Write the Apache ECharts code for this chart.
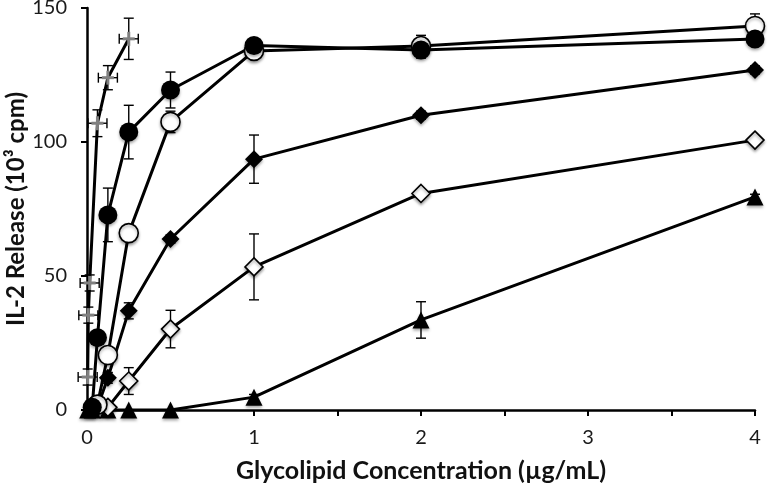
<!DOCTYPE html>
<html><head><meta charset="utf-8">
<script src="https://cdn.jsdelivr.net/npm/echarts@6/dist/echarts.min.js"></script>
<style>html,body{margin:0;padding:0;background:#fff}#c{width:770px;height:493px}</style>
</head><body><div id="c"></div>
<script>
// ---- data ----
const yTicks = [0, 50, 100, 150];
const xTickLabels = ['0', '1', '2', '3', '4'];

// filled circles
const xFC = [0.03125, 0.0625, 0.125, 0.25, 0.5, 1, 2, 4];
const yFC = [1, 27, 72.8, 103.7, 119.4, 136, 134.3, 138.4];
const eFC = [0, 2, 10, 10, 6.7, 1.5, 3, 1.5];
// open circles
const xOC = [0.0625, 0.125, 0.25, 0.5, 1, 2, 4];
const yOC = [2, 20.5, 66, 107.5, 134, 135.8, 143.3];
const eOC = [0, 2, 2, 4, 2, 4, 4.5];
// filled diamonds
const xFD = [0.0625, 0.125, 0.25, 0.5, 1, 2, 4];
const yFD = [1, 12, 37, 63.8, 93.6, 110, 126.9];
const eFD = [0, 2, 3, 1.5, 9, 1.5, 1.5];
// open diamonds
const xOD = [0.125, 0.25, 0.5, 1, 2, 4];
const yOD = [1, 10.8, 30.2, 53.4, 80.8, 100.7];
const eOD = [0, 5, 7, 12.3, 1, 1];
// filled triangles
const xTR = [0.004, 0.03125, 0.125, 0.25, 0.5, 1, 2, 4];
const yTR = [0, 0, 0, 0, 0, 4.8, 33.6, 79.5];
const eTR = [0, 0, 0, 0, 0, 1, 6.8, 1];
// cross (plus) markers with x and y error bars
const xCR = [0.004, 0.008, 0.016, 0.0625, 0.125, 0.25];
const yCR = [12.3, 35.4, 47.4, 107, 124, 138.5];
const eCR = [3, 3, 3, 5, 4.5, 7.7];
const xeCR = [0.057, 0.057, 0.057, 0.057, 0.057, 0.057];

const pairs = (xs, ys) => xs.map((x, i) => [x, ys[i]]);
const shadow = {shadowBlur: 3, shadowColor: 'rgba(0,0,0,0.35)', shadowOffsetY: 2};

function lineSeries(xs, ys, symbol, size, fill) {
  return {
    type: 'line', data: pairs(xs, ys), symbol: symbol, symbolSize: size,
    showAllSymbol: true, z: 3,
    lineStyle: {color: '#000', width: 3},
    itemStyle: Object.assign({color: fill, borderColor: '#000', borderWidth: fill === '#fff' ? 1.6 : 0}, shadow),
    emphasis: {disabled: true}, animation: false
  };
}

function errSeries(xs, ys, es, xes, plus) {
  return {
    type: 'custom', z: plus ? 4 : 2, animation: false,
    encode: {x: 0, y: 1},
    data: xs.map((x, i) => [x, ys[i], es[i], xes ? xes[i] : 0]),
    renderItem: function (params, api) {
      const x = api.value(0), y = api.value(1), e = api.value(2), xe = api.value(3);
      const c = api.coord([x, y]);
      const st = {stroke: '#000', lineWidth: 1.4};
      const ch = [];
      const cw = 5;
      if (e > 0) {
        const t = api.coord([x, y + e]), b = api.coord([x, y - e]);
        ch.push({type: 'line', shape: {x1: c[0], y1: t[1], x2: c[0], y2: b[1]}, style: st});
        ch.push({type: 'line', shape: {x1: c[0] - cw, y1: t[1], x2: c[0] + cw, y2: t[1]}, style: st});
        ch.push({type: 'line', shape: {x1: c[0] - cw, y1: b[1], x2: c[0] + cw, y2: b[1]}, style: st});
      }
      if (xe > 0) {
        const l = api.coord([x - xe, y]), r = api.coord([x + xe, y]);
        ch.push({type: 'line', shape: {x1: l[0], y1: c[1], x2: r[0], y2: c[1]}, style: st});
        ch.push({type: 'line', shape: {x1: l[0], y1: c[1] - cw, x2: l[0], y2: c[1] + cw}, style: st});
        ch.push({type: 'line', shape: {x1: r[0], y1: c[1] - cw, x2: r[0], y2: c[1] + cw}, style: st});
      }
      if (plus) {
        const ps = {stroke: '#808080', lineWidth: 3};
        ch.push({type: 'line', shape: {x1: c[0] - 6, y1: c[1], x2: c[0] + 6, y2: c[1]}, style: ps});
        ch.push({type: 'line', shape: {x1: c[0], y1: c[1] - 7, x2: c[0], y2: c[1] + 7}, style: ps});
      }
      return {type: 'group', children: ch};
    }
  };
}

const chart = echarts.init(document.getElementById('c'), null, {renderer: 'canvas'});
const font = 'Lato, "Open Sans", sans-serif';
chart.setOption({
  backgroundColor: '#fff',
  animation: false,
  grid: {left: 87, right: 15, top: 8, bottom: 83, containLabel: false, outerBoundsMode: 'none'},
  xAxis: {
    type: 'value', min: 0, max: 4, interval: 0.5,
    axisLine: {show: true, lineStyle: {color: '#000', width: 2.5}},
    axisTick: {show: true, inside: false, length: 6, lineStyle: {color: '#000', width: 2}},
    axisLabel: {
      margin: 18, color: '#1a1a1a', fontSize: 20, fontFamily: font,
      formatter: v => (Number.isInteger(v) ? xTickLabels[v] : '')
    },
    splitLine: {show: false},
    name: 'Glycolipid Concentration (µg/mL)', nameLocation: 'middle', nameGap: 48, nameMoveOverlap: false,
    nameTextStyle: {fontSize: 25, fontWeight: 'bold', color: '#111', fontFamily: font}
  },
  yAxis: {
    type: 'value', min: 0, max: 150, interval: 50,
    axisLine: {show: true, lineStyle: {color: '#000', width: 2.5}},
    axisTick: {show: true, inside: false, length: 6, lineStyle: {color: '#000', width: 2}},
    axisLabel: {margin: 20, color: '#1a1a1a', fontSize: 20, fontFamily: font,
      formatter: v => (yTicks.indexOf(v) >= 0 ? String(v) : '')},
    splitLine: {show: false},
    name: 'IL-2 Release (10³ cpm)', nameLocation: 'middle', nameGap: 59, nameRotate: 90, nameMoveOverlap: false,
    nameTextStyle: {fontSize: 24, fontWeight: 'bold', color: '#111', fontFamily: font}
  },
  series: [
    errSeries(xTR, yTR, eTR),
    errSeries(xOD, yOD, eOD),
    errSeries(xFD, yFD, eFD),
    errSeries(xOC, yOC, eOC),
    errSeries(xFC, yFC, eFC),
    {type: 'line', data: pairs(xCR, yCR), symbol: 'none', z: 3, lineStyle: {color: '#000', width: 3}, animation: false},
    lineSeries(xTR, yTR, 'triangle', 17, '#000'),
    lineSeries(xOD, yOD, 'diamond', 18, '#fff'),
    lineSeries(xFD, yFD, 'diamond', 18, '#000'),
    lineSeries(xOC, yOC, 'circle', 19, '#fff'),
    lineSeries(xFC, yFC, 'circle', 19, '#000'),
    errSeries(xCR, yCR, eCR, xeCR, true)
  ]
});
</script>
</body></html>
